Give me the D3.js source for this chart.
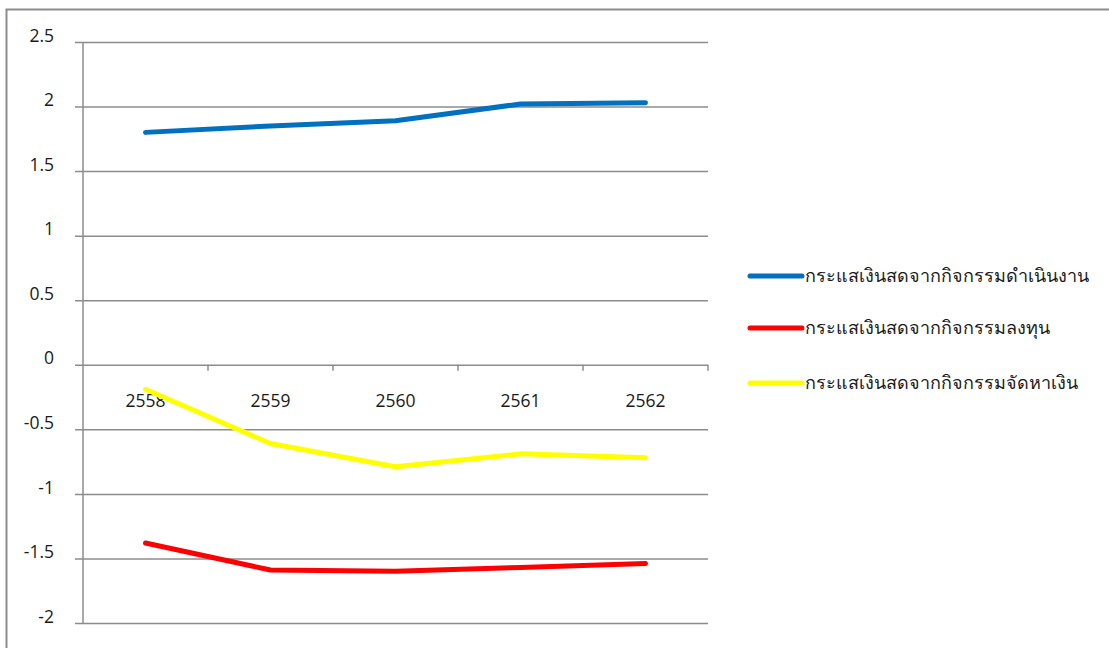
<!DOCTYPE html>
<html>
<head>
<meta charset="utf-8">
<script src="https://cdnjs.cloudflare.com/ajax/libs/d3/7.8.5/d3.min.js"></script>
<style>
  body { margin: 0; background: #fff; }
  text { font-family: "Noto Sans", "DejaVu Sans", sans-serif; }
</style>
</head>
<body>
<script>
// data
const years = ["2558", "2559", "2560", "2561", "2562"];
const operating = [1.80, 1.85, 1.89, 2.02, 2.03];
const investing = [-1.38, -1.59, -1.60, -1.57, -1.54];
const financing = [-0.19, -0.61, -0.79, -0.69, -0.72];
const seriesNames = ["กระแสเงินสดจากกิจกรรมดำเนินงาน", "กระแสเงินสดจากกิจกรรมลงทุน", "กระแสเงินสดจากกิจกรรมจัดหาเงิน"];
const seriesColors = ["#0070C0", "#FF0000", "#FFFF00"];
const yTicks = [2.5, 2, 1.5, 1, 0.5, 0, -0.5, -1, -1.5, -2];

const W = 1109, H = 648;
const plot = {left: 83, right: 708, top: 42, bottom: 623};

var svg = d3.select("body").append("svg")
    .attr("width", W)
    .attr("height", H);

// outer frame
svg.append("rect")
    .attr("x", 6.5).attr("y", 9.5)
    .attr("width", W + 10).attr("height", H + 10)
    .attr("fill", "none")
    .attr("stroke", "#8c8c8c")
    .attr("stroke-width", 2);

var x = d3.scaleBand().domain(years).range([plot.left, plot.right]);
var y = d3.scaleLinear().domain([-2, 2.5]).range([plot.bottom, plot.top]);

// horizontal gridlines + y labels
svg.append("g")
    .attr("transform", `translate(${plot.left},0)`)
    .call(d3.axisLeft(y).tickValues(yTicks).tickSize(-(plot.right - plot.left))
        .tickFormat(d => String(d)))
    .call(g => g.select(".domain").remove())
    .call(g => g.selectAll(".tick line")
        .attr("x1", -8)
        .attr("stroke", "#8c8c8c")
        .attr("stroke-width", 1.5))
    .call(g => g.selectAll(".tick text")
        .attr("x", -29)
        .attr("dy", "-0.05em")
        .attr("fill", "#1a1a1a")
        .style("font-size", "17.5px")
        .style("font-family", "'Open Sans', sans-serif"));

// vertical axis line
svg.append("line")
    .attr("x1", plot.left).attr("x2", plot.left)
    .attr("y1", plot.top).attr("y2", plot.bottom)
    .attr("stroke", "#8c8c8c").attr("stroke-width", 1.5);

// category axis on zero line
var xAxis = svg.append("g")
    .attr("transform", `translate(0,${y(0)})`);
xAxis.selectAll("line.tk")
    .data(years.slice(1).concat(["end"]))
    .enter().append("line")
    .attr("class", "tk")
    .attr("x1", (d, i) => x.range()[0] + x.step() * (i + 1))
    .attr("x2", (d, i) => x.range()[0] + x.step() * (i + 1))
    .attr("y1", 0).attr("y2", 6)
    .attr("stroke", "#8c8c8c").attr("stroke-width", 1.5);
xAxis.selectAll("text")
    .data(years)
    .enter().append("text")
    .attr("x", d => x(d) + x.bandwidth() / 2)
    .attr("y", 42)
    .attr("text-anchor", "middle")
    .attr("fill", "#1a1a1a")
    .style("font-size", "17.5px")
    .style("font-family", "'Open Sans', sans-serif")
    .text(d => d);

// lines
var line = d3.line()
    .x((d, i) => x(years[i]) + x.bandwidth() / 2)
    .y(d => y(d));

[operating, investing, financing].forEach((vals, k) => {
    svg.append("path")
        .datum(vals)
        .attr("d", line)
        .attr("fill", "none")
        .attr("stroke", seriesColors[k])
        .attr("stroke-width", 5)
        .attr("stroke-linecap", "round")
        .attr("stroke-linejoin", "round");
});

// legend
var legend = svg.append("g");
var legY = [276, 328, 383];
seriesNames.forEach((name, k) => {
    legend.append("line")
        .attr("x1", 750).attr("x2", 802)
        .attr("y1", legY[k]).attr("y2", legY[k])
        .attr("stroke", seriesColors[k])
        .attr("stroke-width", 5)
        .attr("stroke-linecap", "round");
    legend.append("text")
        .attr("x", 805)
        .attr("y", legY[k] + 6)
        .attr("fill", "#1a1a1a")
        .style("font-size", "18px")
        .text(name);
});
</script>
</body>
</html>
